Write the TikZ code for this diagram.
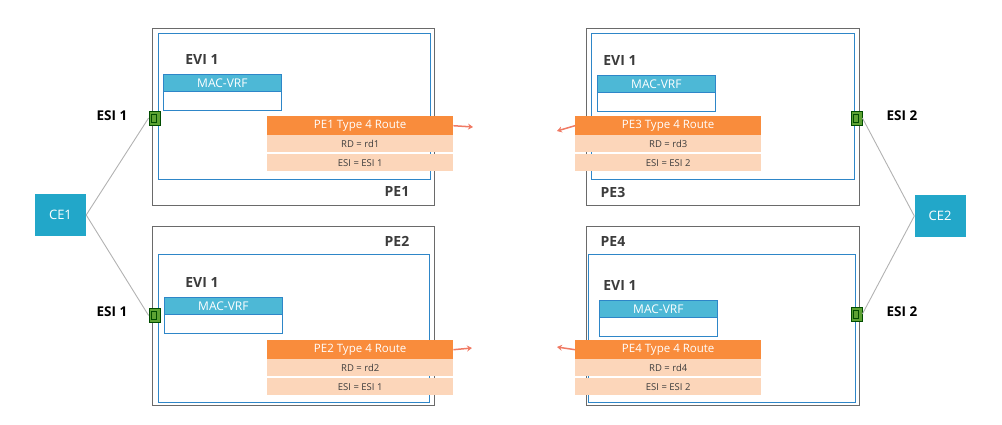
\documentclass[tikz,border=0pt]{standalone}
\usepackage{fontspec}
\setmainfont{Open Sans}
\usetikzlibrary{arrows.meta,positioning}
\definecolor{peline}{HTML}{6A6A6A}
\definecolor{eviline}{HTML}{2E86C8}
\definecolor{macfill}{HTML}{4DB8D6}
\definecolor{cefill}{HTML}{22A7C9}
\definecolor{rtfill}{HTML}{F98C3C}
\definecolor{rowfill}{HTML}{FCD6BA}
\definecolor{portfill}{HTML}{5DA233}
\definecolor{arrowcol}{HTML}{F07A64}
\definecolor{txt}{HTML}{3C3C3C}
\tikzset{
  box/.style={rectangle,inner sep=0pt,anchor=north west},
  pebox/.style={box,draw=peline,line width=1pt,minimum height=177pt},
  evibox/.style={box,draw=eviline,line width=1pt},
  machead/.style={box,fill=macfill,draw=eviline,line width=0.8pt,minimum width=118pt,minimum height=17pt,text=white,font=\fontsize{12}{14}\selectfont},
  macbody/.style={box,draw=eviline,fill=white,line width=0.8pt,minimum width=118pt,minimum height=19pt},
  rthead/.style={box,fill=rtfill,minimum width=186pt,minimum height=19pt,text=white,font=\fontsize{11.5}{13}\selectfont},
  rtrow/.style={box,fill=rowfill,minimum width=186pt,minimum height=17pt,text=txt,font=\fontsize{9.5}{11}\selectfont},
  port/.style={rectangle,draw=black!70!green,fill=portfill,line width=0.8pt,minimum width=11pt,minimum height=14pt,inner sep=0pt,
    path picture={\draw[black!70!green,line width=0.6pt] ([shift={(2pt,-3pt)}]path picture bounding box.north west) rectangle ([shift={(-4pt,3pt)}]path picture bounding box.south east);}},
  cebox/.style={rectangle,fill=cefill,minimum width=51pt,minimum height=42pt,text=white,font=\fontsize{13}{15}\selectfont},
  lbl/.style={text=txt,font=\bfseries\fontsize{14}{16}\selectfont},
  esilbl/.style={text=black,font=\bfseries\fontsize{13.5}{16}\selectfont},
  link/.style={draw=black!30,line width=0.9pt},
  send/.style={draw=arrowcol,line width=1.5pt,-{Stealth[length=5pt,width=6pt]}}
}
\begin{document}
\begin{tikzpicture}[x=1pt,y=-1pt]
\useasboundingbox (0,0) rectangle (1002,425);
% customer edges
\node[cebox] (ce1) at (60.5,215) {CE1};
\node[cebox] (ce2) at (940,216) {CE2};
% PE1
\node[pebox,minimum width=282pt] (pe1) at (152,28) {};
\node[evibox,minimum width=272pt,minimum height=146pt] (evi1) at (158,33) {};
\node[lbl] at (202,60) {EVI 1};
\node[machead] (mac1) at (163,74) {MAC-VRF};
\node[macbody] at (163,91) {};
\node[lbl] at (397,192) {PE1};
\node[port] (p1) at (154.5,118) {};
\node[esilbl] at (112,116) {ESI 1};
\node[rthead] (rt1) at (267,116) {PE1 Type 4 Route};
\node[rtrow] at (267,135) {RD = rd1};
\node[rtrow] at (267,154) {ESI = ESI 1};
% PE2
\node[pebox,minimum width=282pt,minimum height=179pt] (pe2) at (152,226) {};
\node[evibox,minimum width=271pt,minimum height=148pt] (evi2) at (158,254) {};
\node[lbl] at (397,241) {PE2};
\node[lbl] at (202,283) {EVI 1};
\node[machead] (mac2) at (164,297) {MAC-VRF};
\node[macbody] at (164,314) {};
\node[port] (p2) at (154.5,315.5) {};
\node[esilbl] at (112,312) {ESI 1};
\node[rthead] (rt2) at (267,340) {PE2 Type 4 Route};
\node[rtrow] at (267,359) {RD = rd2};
\node[rtrow] at (267,378) {ESI = ESI 1};
% PE3
\node[pebox,minimum width=273pt] (pe3) at (586,28) {};
\node[evibox,minimum width=263pt,minimum height=146pt] (evi3) at (591,33) {};
\node[lbl] at (620,61) {EVI 1};
\node[machead] (mac3) at (597,75) {MAC-VRF};
\node[macbody] at (597,92) {};
\node[lbl] at (613,192) {PE3};
\node[port] (p3) at (856.5,118) {};
\node[esilbl] at (902,116) {ESI 2};
\node[rthead] (rt3) at (575,116) {PE3 Type 4 Route};
\node[rtrow] at (575,135) {RD = rd3};
\node[rtrow] at (575,154) {ESI = ESI 2};
% PE4
\node[pebox,minimum width=273pt,minimum height=179pt] (pe4) at (586,226) {};
\node[evibox,minimum width=267pt,minimum height=148pt] (evi4) at (588,254) {};
\node[lbl] at (613,242) {PE4};
\node[lbl] at (620,286) {EVI 1};
\node[machead] (mac4) at (599,300) {MAC-VRF};
\node[macbody] at (599,317) {};
\node[port] (p4) at (856.5,314) {};
\node[esilbl] at (902,312) {ESI 2};
\node[rthead] (rt4) at (575,340) {PE4 Type 4 Route};
\node[rtrow] at (575,359) {RD = rd4};
\node[rtrow] at (575,378) {ESI = ESI 2};
% links
\draw[link] (ce1.east) -- (p1.west);
\draw[link] (ce1.east) -- (p2.west);
\draw[link] (ce2.west) -- (p3.east);
\draw[link] (ce2.west) -- (p4.east);
% advertised routes
\coordinate (out1) at (473,127);
\coordinate (out2) at (472,348);
\coordinate (out3) at (557,131);
\coordinate (out4) at (557,347);
\draw[send] (rt1.east) -- (out1);
\draw[send] (rt2.east) -- (out2);
\draw[send] (rt3.west) -- (out3);
\draw[send] (rt4.west) -- (out4);
\end{tikzpicture}
\end{document}
